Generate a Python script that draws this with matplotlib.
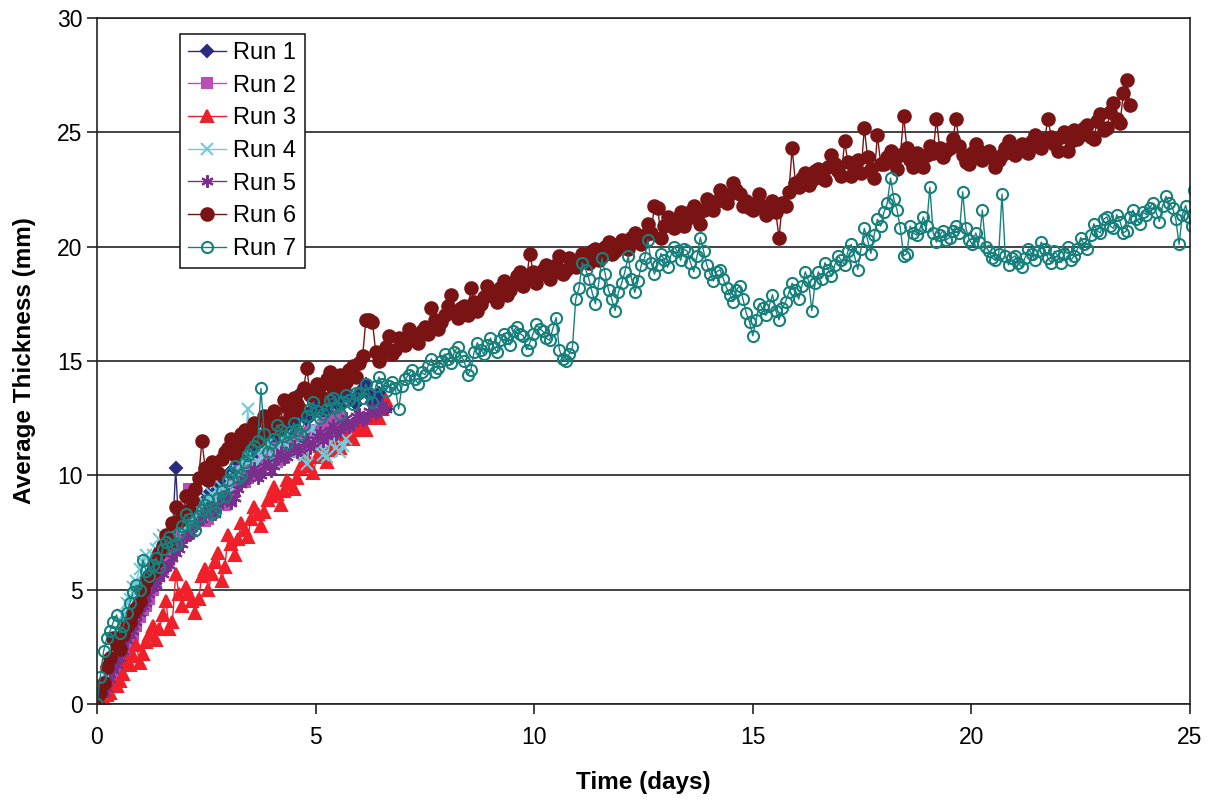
import matplotlib
matplotlib.use('Agg')
import matplotlib.pyplot as plt

# time of each reading (days), one reading every 0.075 day
t_days = [0.0, 0.075, 0.15, 0.225, 0.3, 0.375, 0.45, 0.525, 0.6, 0.675,
          0.75, 0.825, 0.9, 0.975, 1.05, 1.125, 1.2, 1.275, 1.35, 1.425,
          1.5, 1.575, 1.65, 1.725, 1.8, 1.875, 1.95, 2.025, 2.1, 2.175,
          2.25, 2.325, 2.4, 2.475, 2.55, 2.625, 2.7, 2.775, 2.85, 2.925,
          3.0, 3.075, 3.15, 3.225, 3.3, 3.375, 3.45, 3.525, 3.6, 3.675,
          3.75, 3.825, 3.9, 3.975, 4.05, 4.125, 4.2, 4.275, 4.35, 4.425,
          4.5, 4.575, 4.65, 4.725, 4.8, 4.875, 4.95, 5.025, 5.1, 5.175,
          5.25, 5.325, 5.4, 5.475, 5.55, 5.625, 5.7, 5.775, 5.85, 5.925,
          6.0, 6.075, 6.15, 6.225, 6.3, 6.375, 6.45, 6.525, 6.6, 6.675,
          6.75, 6.825, 6.9, 6.975, 7.05, 7.125, 7.2, 7.275, 7.35, 7.425,
          7.5, 7.575, 7.65, 7.725, 7.8, 7.875, 7.95, 8.025, 8.1, 8.175,
          8.25, 8.325, 8.4, 8.475, 8.55, 8.625, 8.7, 8.775, 8.85, 8.925,
          9.0, 9.075, 9.15, 9.225, 9.3, 9.375, 9.45, 9.525, 9.6, 9.675,
          9.75, 9.825, 9.9, 9.975, 10.05, 10.125, 10.2, 10.275, 10.35, 10.425,
          10.5, 10.575, 10.65, 10.725, 10.8, 10.875, 10.95, 11.025, 11.1, 11.175,
          11.25, 11.325, 11.4, 11.475, 11.55, 11.625, 11.7, 11.775, 11.85, 11.925,
          12.0, 12.075, 12.15, 12.225, 12.3, 12.375, 12.45, 12.525, 12.6, 12.675,
          12.75, 12.825, 12.9, 12.975, 13.05, 13.125, 13.2, 13.275, 13.35, 13.425,
          13.5, 13.575, 13.65, 13.725, 13.8, 13.875, 13.95, 14.025, 14.1, 14.175,
          14.25, 14.325, 14.4, 14.475, 14.55, 14.625, 14.7, 14.775, 14.85, 14.925,
          15.0, 15.075, 15.15, 15.225, 15.3, 15.375, 15.45, 15.525, 15.6, 15.675,
          15.75, 15.825, 15.9, 15.975, 16.05, 16.125, 16.2, 16.275, 16.35, 16.425,
          16.5, 16.575, 16.65, 16.725, 16.8, 16.875, 16.95, 17.025, 17.1, 17.175,
          17.25, 17.325, 17.4, 17.475, 17.55, 17.625, 17.7, 17.775, 17.85, 17.925,
          18.0, 18.075, 18.15, 18.225, 18.3, 18.375, 18.45, 18.525, 18.6, 18.675,
          18.75, 18.825, 18.9, 18.975, 19.05, 19.125, 19.2, 19.275, 19.35, 19.425,
          19.5, 19.575, 19.65, 19.725, 19.8, 19.875, 19.95, 20.025, 20.1, 20.175,
          20.25, 20.325, 20.4, 20.475, 20.55, 20.625, 20.7, 20.775, 20.85, 20.925,
          21.0, 21.075, 21.15, 21.225, 21.3, 21.375, 21.45, 21.525, 21.6, 21.675,
          21.75, 21.825, 21.9, 21.975, 22.05, 22.125, 22.2, 22.275, 22.35, 22.425,
          22.5, 22.575, 22.65, 22.725, 22.8, 22.875, 22.95, 23.025, 23.1, 23.175,
          23.25, 23.325, 23.4, 23.475, 23.55, 23.625, 23.7, 23.775, 23.85, 23.925,
          24.0, 24.075, 24.15, 24.225, 24.3, 24.375, 24.45, 24.525, 24.6, 24.675,
          24.75, 24.825, 24.9, 24.975, 25.05, 25.1]

# average thickness (mm) per run
run1 = [0.0, 0.1, 0.3, 0.5, 0.7, 1.0, 1.4, 2.0, 2.6, 2.9, 3.2, 3.7, 4.1, 4.3, 4.6, 5.1, 5.5, 5.6, 5.9, 6.3,
        6.6, 6.8, 7.1, 7.4, 10.3, 7.6, 7.7, 8.1, 8.3, 8.0, 8.0, 8.5, 8.8, 8.6, 9.2, 9.0, 8.9, 9.4, 9.6, 9.5,
        9.9, 10.2, 10.3, 9.8, 10.0, 10.5, 10.9, 11.0, 11.2, 11.4, 10.8, 11.5, 12.5, 11.9, 11.6, 12.1, 12.0, 12.2, 11.7, 12.0,
        12.3, 12.8, 13.6, 12.6, 12.4, 12.7, 12.9, 13.1, 13.2, 12.8, 12.7, 13.2, 13.4, 13.2, 13.0, 13.5, 13.7, 13.4, 13.3, 13.1,
        13.5, 13.8, 14.0, 13.5, 13.2, 13.4, 13.6, 13.1, 12.9]

run2 = [0.0, 0.2, 0.4, 0.7, 0.9, 1.5, 1.2, 1.4, 1.7, 2.1, 2.6, 3.0, 3.4, 3.8, 4.1, 4.3, 4.6, 5.0, 5.3, 5.6,
        5.9, 6.1, 6.3, 6.7, 7.0, 7.2, 7.4, 7.7, 9.4, 8.0, 7.9, 8.2, 8.4, 8.0, 8.1, 8.5, 8.8, 8.9, 9.1, 8.7,
        9.0, 9.4, 9.6, 9.8, 10.2, 9.7, 9.9, 10.3, 10.5, 10.1, 10.3, 10.7, 10.9, 11.0, 11.2, 10.6, 10.8, 11.2, 11.4, 11.0,
        11.1, 11.5, 11.7, 11.3, 11.5, 11.9, 12.0, 11.6, 11.8, 12.2, 12.3, 11.9, 12.1, 12.4, 12.6]

run3 = [0.0, 0.1, 0.2, 0.4, 0.5, 0.9, 0.8, 1.0, 1.3, 1.9, 1.7, 2.1, 2.6, 1.8, 2.2, 2.7, 3.0, 3.4, 2.8, 3.3,
        3.9, 4.5, 3.3, 3.6, 5.7, 4.8, 4.3, 5.1, 4.8, 4.5, 4.0, 4.6, 5.6, 5.9, 5.0, 5.7, 6.2, 6.6, 5.4, 6.0,
        7.4, 7.0, 6.5, 7.2, 7.9, 7.6, 7.3, 8.1, 8.6, 8.3, 7.8, 8.4, 8.9, 9.1, 9.5, 9.2, 8.7, 9.3, 9.8, 9.6,
        9.4, 9.9, 10.3, 10.5, 10.8, 10.4, 10.1, 10.8, 11.3, 11.0, 10.6, 11.1, 11.7, 11.5, 11.2, 11.8, 12.1, 11.9, 11.6, 12.0,
        12.4, 12.2, 12.0, 12.5, 12.8, 12.6, 12.5, 12.9, 13.3]

run4 = [0.0, 0.5, 0.8, 1.4, 1.9, 2.5, 2.8, 3.5, 3.9, 4.4, 4.6, 5.1, 5.4, 5.9, 6.2, 6.5, 6.0, 6.5, 6.8, 7.2,
        7.4, 7.0, 7.1, 7.5, 7.8, 8.0, 8.2, 7.7, 7.9, 8.4, 8.6, 8.1, 8.3, 8.8, 9.0, 9.2, 8.8, 9.3, 9.5, 9.0,
        9.2, 9.6, 9.9, 10.2, 10.5, 11.1, 12.9, 10.7, 10.3, 10.6, 10.8, 11.2, 11.4, 10.9, 10.6, 11.0, 11.1, 11.5, 11.8, 11.2,
        10.9, 11.3, 11.5, 10.9, 10.5, 11.6, 12.1, 11.7, 11.3, 10.9, 10.8, 11.4, 11.7, 11.2, 11.0, 11.3, 11.6]

run5 = [0.0, 0.4, 0.5, 0.7, 1.1, 1.5, 1.7, 2.0, 2.3, 2.8, 3.0, 3.2, 3.6, 4.0, 4.3, 4.4, 4.8, 5.1, 5.2, 5.5,
        5.7, 6.0, 6.1, 6.4, 6.6, 6.8, 7.0, 7.3, 7.4, 7.5, 7.8, 8.0, 8.1, 8.3, 8.5, 8.6, 8.3, 8.7, 8.9, 9.0,
        9.2, 8.8, 9.0, 9.4, 9.6, 9.8, 9.9, 10.1, 10.3, 9.9, 10.0, 10.4, 10.6, 10.2, 10.4, 10.8, 11.0, 10.7, 10.8, 11.1,
        11.3, 11.0, 11.1, 11.4, 11.6, 11.2, 11.4, 11.7, 11.9, 11.5, 11.7, 12.0, 12.2, 11.8, 12.0, 12.3, 12.5, 12.1, 12.3, 12.6,
        12.7, 12.4, 12.5, 12.8, 13.0, 12.7, 12.8, 13.1, 12.9]

run6 = [0.0, 0.5, 0.9, 1.6, 2.0, 2.9, 2.6, 2.4, 3.0, 3.4, 3.6, 4.0, 4.2, 4.5, 5.0, 5.4, 5.6, 5.8, 6.2, 6.6,
        6.9, 7.4, 7.1, 7.9, 8.6, 8.0, 8.2, 9.1, 8.5, 8.9, 9.4, 9.9, 11.5, 10.3, 9.8, 10.6, 10.2, 10.1, 10.7, 11.0,
        11.2, 11.6, 10.9, 11.3, 11.8, 12.0, 11.4, 11.9, 12.3, 11.5, 11.7, 12.6, 12.1, 12.4, 12.8, 12.0, 12.3, 13.3, 13.0, 12.6,
        13.4, 13.1, 12.9, 13.8, 14.7, 13.5, 13.6, 14.0, 13.9, 13.4, 14.2, 14.5, 13.8, 14.1, 14.4, 13.9, 14.1, 14.6, 14.8, 14.3,
        14.9, 15.2, 16.8, 16.8, 16.7, 15.4, 15.0, 15.3, 15.6, 16.1, 15.3, 15.5, 16.0, 15.8, 15.7, 16.4, 16.2, 15.9, 15.8, 16.3,
        16.5, 16.2, 17.3, 16.8, 16.4, 16.7, 17.0, 17.4, 17.9, 17.1, 16.9, 17.3, 17.4, 17.0, 18.2, 17.6, 17.2, 17.5, 17.8, 18.3,
        18.0, 17.8, 17.6, 18.2, 18.5, 17.9, 18.1, 18.4, 18.7, 18.9, 18.3, 18.6, 19.7, 18.9, 18.4, 18.8, 19.0, 19.2, 18.6, 18.9,
        19.2, 19.6, 18.8, 19.0, 19.5, 19.3, 19.1, 19.4, 19.7, 19.5, 19.3, 19.8, 19.9, 19.4, 19.6, 20.0, 20.2, 19.7, 19.8, 20.1,
        20.3, 20.0, 19.9, 20.4, 20.6, 20.2, 20.1, 20.5, 21.0, 20.6, 21.8, 21.7, 20.4, 20.9, 21.3, 21.0, 20.8, 21.2, 21.5, 20.9,
        21.2, 21.5, 21.8, 21.3, 21.0, 21.6, 22.1, 21.7, 21.6, 22.0, 22.5, 22.2, 21.9, 22.3, 22.8, 22.5, 22.3, 21.8, 22.0, 21.7,
        21.6, 21.9, 22.3, 21.8, 21.4, 21.7, 22.0, 21.5, 20.4, 21.9, 21.8, 22.4, 24.3, 22.8, 22.6, 23.0, 23.2, 22.7, 22.9, 23.3,
        23.4, 23.0, 22.9, 23.5, 24.0, 23.6, 23.3, 23.1, 24.6, 23.7, 23.1, 23.5, 23.8, 23.2, 25.2, 23.9, 23.4, 23.0, 24.9, 23.6,
        23.6, 23.9, 24.2, 23.7, 23.4, 24.0, 25.7, 24.3, 23.8, 23.5, 24.1, 23.7, 23.5, 24.0, 24.4, 24.1, 25.6, 24.3, 23.9, 24.2,
        24.3, 24.7, 25.6, 24.4, 24.0, 23.7, 23.6, 24.1, 24.5, 24.2, 23.8, 24.0, 24.2, 23.9, 23.5, 23.8, 24.0, 24.3, 24.6, 24.1,
        24.0, 24.3, 24.5, 24.2, 24.1, 24.6, 24.9, 24.4, 24.3, 24.7, 25.6, 24.8, 24.5, 24.2, 24.8, 25.0, 24.2, 24.6, 25.1, 24.7,
        24.9, 25.2, 25.3, 24.8, 24.7, 25.5, 25.8, 25.1, 25.2, 25.9, 26.3, 25.6, 25.4, 26.7, 27.3, 26.2]

run7 = [0.0, 1.2, 2.3, 2.9, 3.2, 3.6, 3.9, 3.1, 3.4, 4.0, 4.4, 4.9, 5.2, 5.0, 6.3, 5.8, 5.6, 6.1, 6.4, 6.0,
        6.8, 7.1, 7.3, 6.9, 7.0, 7.5, 7.8, 8.3, 8.1, 7.8, 7.6, 8.2, 8.5, 8.7, 8.9, 8.3, 8.4, 9.0, 9.3, 9.1,
        9.8, 10.1, 10.4, 9.9, 10.0, 10.6, 10.9, 11.1, 11.3, 11.5, 13.8, 11.8, 11.0, 11.4, 11.6, 12.2, 12.0, 11.7, 11.4, 11.9,
        12.3, 12.0, 11.8, 12.2, 12.6, 12.9, 13.2, 12.8, 12.5, 12.7, 12.9, 13.3, 13.4, 13.0, 12.7, 13.2, 13.5, 13.3, 13.1, 13.6,
        13.6, 13.4, 14.0, 13.6, 13.2, 13.9, 14.3, 14.0, 13.7, 13.9, 14.1, 13.8, 12.9, 13.9, 14.2, 14.4, 14.6, 14.2, 14.0, 14.5,
        14.4, 14.8, 15.1, 14.5, 14.7, 15.0, 15.3, 15.1, 14.9, 15.4, 15.6, 15.2, 15.0, 14.4, 14.6, 15.4, 15.8, 15.5, 15.3, 15.7,
        16.0, 15.6, 15.4, 15.9, 16.2, 16.0, 15.7, 16.3, 16.5, 16.2, 16.1, 15.5, 15.8, 16.2, 16.6, 16.4, 16.3, 16.0, 15.9, 16.4,
        16.9, 15.5, 15.1, 15.0, 15.3, 15.6, 17.7, 18.2, 19.3, 19.0, 18.6, 18.0, 17.5, 18.4, 19.5, 18.8, 18.1, 17.7, 17.2, 18.0,
        18.4, 18.9, 19.6, 18.6, 18.0, 18.5, 19.2, 19.5, 20.3, 19.3, 18.8, 19.2, 19.7, 19.4, 19.1, 19.6, 20.0, 19.8, 19.4, 19.9,
        19.8, 19.3, 18.9, 19.6, 20.4, 19.8, 19.2, 18.8, 18.5, 18.9, 19.0, 18.6, 18.2, 17.9, 17.6, 18.1, 18.3, 17.7, 17.1, 16.7,
        16.1, 16.8, 17.5, 17.3, 17.0, 17.4, 17.9, 17.2, 16.8, 17.3, 17.6, 18.0, 18.4, 18.1, 17.7, 18.3, 18.9, 18.5, 17.2, 18.4,
        18.9, 18.6, 19.3, 19.0, 18.7, 19.2, 19.6, 19.4, 19.2, 19.8, 20.1, 19.6, 19.0, 19.9, 20.8, 20.3, 19.7, 20.5, 21.2, 20.9,
        21.5, 21.9, 23.0, 22.1, 21.6, 20.8, 19.6, 19.7, 20.9, 20.6, 20.5, 20.8, 21.3, 20.9, 22.6, 20.6, 20.2, 20.5, 20.7, 20.3,
        20.4, 20.7, 20.9, 20.6, 22.4, 20.8, 20.3, 20.1, 20.6, 20.2, 21.6, 20.0, 19.8, 19.5, 19.4, 19.7, 22.3, 19.6, 19.2, 19.5,
        19.6, 19.3, 19.1, 19.5, 19.9, 19.7, 19.4, 19.8, 20.2, 19.9, 19.5, 19.3, 19.8, 19.6, 19.3, 19.7, 20.0, 19.4, 19.6, 19.9,
        20.4, 20.1, 19.9, 20.5, 21.0, 20.7, 20.6, 21.2, 21.3, 20.9, 20.8, 21.4, 21.1, 20.6, 20.7, 21.3, 21.6, 21.2, 21.0, 21.5,
        21.4, 21.7, 21.9, 21.5, 21.1, 21.8, 22.2, 21.9, 21.7, 21.2, 20.1, 21.4, 21.8, 21.3, 20.9, 22.5]

labels = ['Run 1', 'Run 2', 'Run 3', 'Run 4', 'Run 5', 'Run 6', 'Run 7']

plt.rcParams['font.family'] = ['Liberation Sans', 'DejaVu Sans']

fig = plt.figure(figsize=(12.14, 8), dpi=100)
ax = fig.add_axes([97 / 1214, 96 / 800, 1093 / 1214, 686 / 800])

# (values, colour, marker, size, filled)
styles = [
    (run1, '#2b2b7f', 'D', 6, True),
    (run2, '#b94fb5', 's', 6.5, True),
    (run3, '#f0202a', '^', 8, True),
    (run4, '#6fcbdc', 'x', 8, True),
    (run5, '#7b2f8c', (6, 2, 0), 9, True),
    (run6, '#7a1414', 'o', 9, True),
    (run7, '#17807c', 'o', 8, False),
]

for (vals, col, mk, ms, filled), lab in zip(styles, labels):
    t = t_days[:len(vals)]
    face = col if filled else 'none'
    ax.plot(t, vals, color=col, marker=mk, markersize=ms, linewidth=1.0,
            markerfacecolor=face, markeredgewidth=1.5, label=lab)

ax.set_xlim(0, 25)
ax.set_ylim(0, 30)
ax.set_xticks([0, 5, 10, 15, 20, 25])
ax.set_yticks([0, 5, 10, 15, 20, 25, 30])
ax.yaxis.grid(True, color='#222222', linewidth=1.2)
ax.set_axisbelow(True)
for s in ax.spines.values():
    s.set_color('#222222')
    s.set_linewidth(1.2)
ax.tick_params(axis='both', labelsize=16.5, direction='out', length=7, width=1.2,
               color='#222222')
ax.tick_params(axis='x', pad=9)

ax.set_xlabel('Time (days)', fontsize=17.5, fontweight='bold', labelpad=16)
ax.set_ylabel('Average Thickness (mm)', fontsize=17.5, fontweight='bold', labelpad=15)

leg = ax.legend(loc='upper left', bbox_to_anchor=(0.076, 0.977), borderaxespad=0,
                fontsize=17, fancybox=False, framealpha=1, edgecolor='#222222',
                handlelength=1.6, handletextpad=0.3, labelspacing=0.45,
                borderpad=0.35)
leg.get_frame().set_linewidth(1.2)

fig.savefig('out.png', dpi=100)
